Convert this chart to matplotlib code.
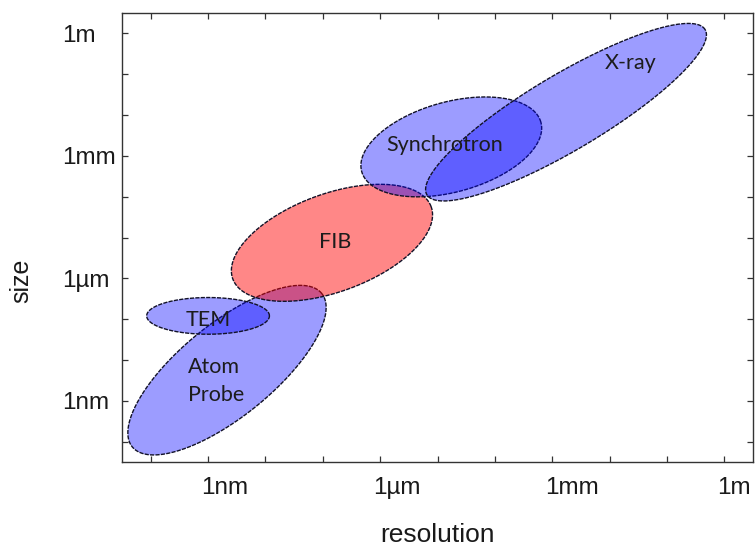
import numpy as np
import matplotlib
matplotlib.use('Agg')
import matplotlib.pyplot as plt
from matplotlib.transforms import ScaledTranslation

plt.rcParams['font.family'] = ['Liberation Sans', 'DejaVu Sans']

# axis values are log10 of a length in metres
decades = list(range(-10, 1))
tick_names = {-9: '1nm', -6: '1\u00b5m', -3: '1mm', 0: '1m'}

# one ellipse per technique: centre (log10 resolution, log10 size),
# half axes in decades (measured along the resolution axis) and tilt on screen
techniques = ['Atom\nProbe', 'TEM', 'FIB', 'Synchrotron', 'X-ray']
centre_res = [-8.67, -9.0, -6.84, -4.76, -2.76]
centre_size = [-8.25, -6.92, -5.13, -2.78, -1.93]
half_long = [2.125, 1.07, 1.84, 1.62, 2.82]
half_short = [0.81, 0.32, 0.854, 0.785, 0.66]
tilt_deg = [39, 0, 20, 15.4, 30.7]
label_res = [-9.35, -9.0, -6.79, -4.87, -1.63]
label_size = [-8.52, -7.02, -5.11, -2.73, -0.73]

fill_colors = ['#0000ff', '#0000ff', '#ff0000', '#0000ff', '#0000ff']
fill_alpha = [0.39, 0.39, 0.47, 0.39, 0.39]
label_ha = ['left', 'center', 'center', 'center', 'center']

fig = plt.figure(figsize=(7.55, 5.47), dpi=100)
box = [0.1616, 0.1554, 0.8358, 0.8208]
ax = fig.add_axes(box)
ax.set_xlim(-10.5, 0.5)
ax.set_ylim(-10.5, 0.5)

# how many y decades match one x decade on screen
stretch = (box[2] * 7.55 / 11) / (box[3] * 5.47 / 11)

t = np.linspace(0, 2 * np.pi, 400)
for i in range(len(techniques)):
    th = np.radians(tilt_deg[i])
    u = half_long[i] * np.cos(t)
    v = half_short[i] * np.sin(t)
    x = centre_res[i] + u * np.cos(th) - v * np.sin(th)
    y = centre_size[i] + (u * np.sin(th) + v * np.cos(th)) * stretch
    ax.fill(x, y, facecolor=fill_colors[i], alpha=fill_alpha[i], edgecolor='none', zorder=2 + i)
    ax.plot(x, y, color='#121228', lw=1.0, ls=(0, (3, 0.9)), zorder=2 + i)
    ax.text(label_res[i], label_size[i], techniques[i], ha=label_ha[i], va='center',
            fontsize=15.5, family=['Lato', 'DejaVu Sans'], color='#1c1c1c',
            linespacing=1.5, zorder=10)

ax.set_xticks(decades)
ax.set_xticklabels([tick_names.get(d, '') for d in decades])
ax.set_yticks(decades)
ax.set_yticklabels([tick_names.get(d, '') for d in decades])

ax.tick_params(direction='in', length=4.5, width=0.9, top=True, right=True,
               colors='#333333', labelcolor='#1a1a1a', labelsize=17.5)
ax.tick_params(axis='x', pad=11)
ax.tick_params(axis='y', pad=43)

shift = ScaledTranslation(-7 / 100, 0, fig.dpi_scale_trans)
for lbl in ax.get_xticklabels():
    lbl.set_ha('left')
    lbl.set_transform(lbl.get_transform() + shift)
for lbl in ax.get_yticklabels():
    lbl.set_ha('left')

for s in ax.spines.values():
    s.set_color('#333333')
    s.set_linewidth(1.0)

ax.set_xlabel('resolution', fontsize=19, color='#1a1a1a')
ax.set_ylabel('size', fontsize=18, color='#1a1a1a')
ax.xaxis.set_label_coords(0.5, -0.136)
ax.yaxis.set_label_coords(-0.14, 0.403)

fig.savefig('out.png', dpi=100)
